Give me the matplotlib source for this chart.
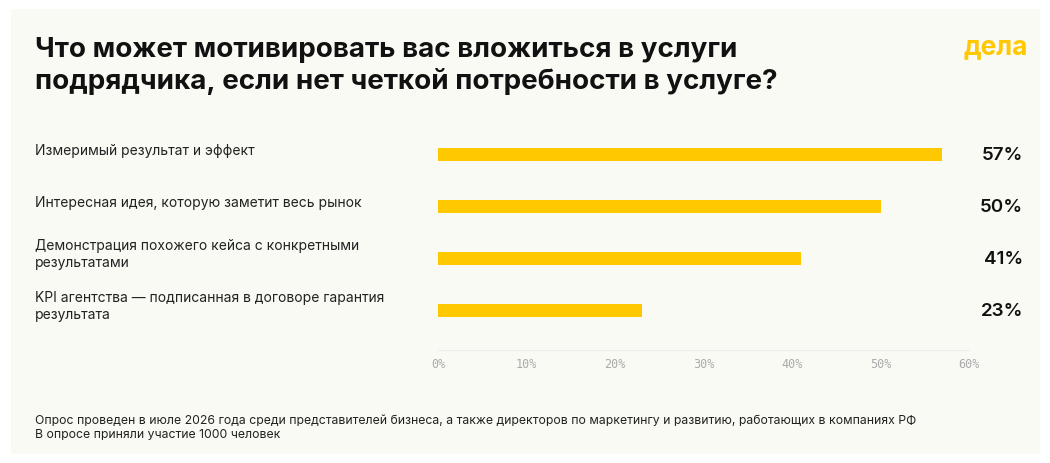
import matplotlib
matplotlib.use("Agg")
import matplotlib.pyplot as plt

categories = ["Измеримый результат и эффект",
              "Интересная идея, которую заметит весь рынок",
              "Демонстрация похожего кейса с конкретными\nрезультатами",
              "KPI агентства — подписанная в договоре гарантия\nрезультата"]
values = [57, 50, 41, 23]
ticks = [0, 10, 20, 30, 40, 50, 60]

plt.rcParams['font.family'] = ['Inter', 'DejaVu Sans']
bg = '#fafaf5'
fig = plt.figure(figsize=(10.5, 4.63), dpi=100, facecolor='white')
fig.patches.append(plt.Rectangle((0.01, 0.02), 0.98, 0.96, transform=fig.transFigure,
                                 facecolor=bg, edgecolor='none', zorder=-1))
ax = fig.add_axes([438/1050, 1-350/463, 531/1050, 220/463])
ax.set_facecolor('none')
ys = [3, 2, 1, 0]
ax.barh(ys, values, height=0.25, color='#ffc800')
ax.set_xlim(0, 60)
ax.set_ylim(-0.77, 3.48)
ax.set_xticks(ticks)
ax.set_xticklabels([f"{t}%" for t in ticks], family='DejaVu Sans Mono', fontsize=8.5, color='#aaaaaa')
ax.tick_params(axis='x', length=0, pad=6)
ax.set_yticks([])
for s in ['top', 'right', 'left']:
    ax.spines[s].set_visible(False)
ax.spines['bottom'].set_color('#eeeeee')
for y, c, v in zip(ys, categories, values):
    yfig = ax.transData.transform((0, y))[1] / fig.bbox.height
    fig.text(35/1050, yfig + 0.008, c, fontsize=10, color='#222222', va='center', linespacing=1.3)
    fig.text(1023/1050, yfig - 0.002, f"{v}%", fontsize=13.5, fontweight='semibold', color='#111111',
             va='center', ha='right')

fig.text(35/1050, 1-66/463, "Что может мотивировать вас вложиться в услуги\nподрядчика, если нет четкой потребности в услуге?",
         fontsize=20, fontweight='bold', color='#111111', va='center', linespacing=1.2)
fig.text(1028/1050, 1-47/463, "дела", fontsize=19, fontweight='bold', color='#ffc800', ha='right', va='center')
fig.text(35/1050, 1-428/463, "Опрос проведен в июле 2026 года среди представителей бизнеса, а также директоров по маркетингу и развитию, работающих в компаниях РФ\nВ опросе приняли участие 1000 человек",
         fontsize=8.8, color='#222222', va='center', linespacing=1.3)
fig.savefig("out.png", dpi=100, facecolor=fig.get_facecolor())
